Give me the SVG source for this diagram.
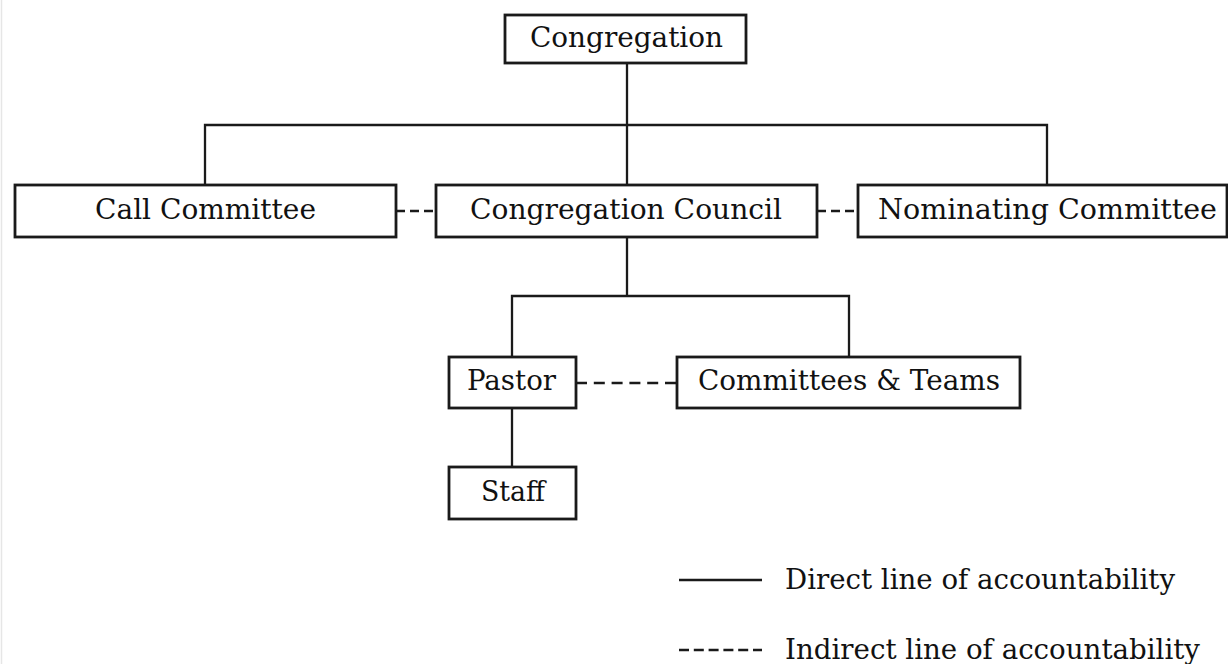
<svg xmlns="http://www.w3.org/2000/svg" width="1228" height="664" viewBox="0 0 1228 664">
<style>
.box{fill:#fff;stroke:#1a1a1a;stroke-width:2.8}
.lbl{font-family:"DejaVu Serif","Liberation Serif",serif;font-size:27.5px;fill:#111;text-anchor:start}
.solid{stroke:#1a1a1a;stroke-width:2.3;fill:none}
.dash{stroke:#1a1a1a;stroke-width:2.5;fill:none;stroke-dasharray:9 5}
.dash2{stroke:#1a1a1a;stroke-width:2.5;fill:none;stroke-dasharray:11 6.8}
.legdash{stroke:#1a1a1a;stroke-width:2.3;fill:none;stroke-dasharray:10 4.8}
</style>
<rect width="1228" height="664" fill="#fff"/>
<line x1="1.5" y1="0" x2="1.5" y2="664" stroke="#e6e6e6" stroke-width="1.5"/>
<g id="connectors">
<path class="solid" d="M627 63V185M205 185V125H1047V185"/>
<path class="solid" d="M627 237V296M512 357V296H849V357"/>
<path class="solid" d="M512 408V467"/>
<path class="dash" d="M396 211H436"/>
<path class="dash" d="M817 211H858"/>
<path class="dash2" d="M576 383H677"/>
</g>
<g id="congregation">
<rect class="box" x="505" y="15" width="241" height="48"/>
<text class="lbl" x="530" y="47" textLength="193" lengthAdjust="spacingAndGlyphs">Congregation</text>
</g>
<g id="call-committee">
<rect class="box" x="15" y="185" width="381" height="52"/>
<text class="lbl" x="95" y="219" textLength="221" lengthAdjust="spacingAndGlyphs">Call Committee</text>
</g>
<g id="congregation-council">
<rect class="box" x="436" y="185" width="381" height="52"/>
<text class="lbl" x="470" y="219" textLength="312" lengthAdjust="spacingAndGlyphs">Congregation Council</text>
</g>
<g id="nominating-committee">
<rect class="box" x="858" y="185" width="369" height="52"/>
<text class="lbl" x="878" y="219" textLength="339" lengthAdjust="spacingAndGlyphs">Nominating Committee</text>
</g>
<g id="pastor">
<rect class="box" x="449" y="357" width="127" height="51"/>
<text class="lbl" x="467" y="390" textLength="89" lengthAdjust="spacingAndGlyphs">Pastor</text>
</g>
<g id="committees-teams">
<rect class="box" x="677" y="357" width="343" height="51"/>
<text class="lbl" x="698" y="390" textLength="302" lengthAdjust="spacingAndGlyphs">Committees &amp; Teams</text>
</g>
<g id="staff">
<rect class="box" x="449" y="467" width="127" height="52"/>
<text class="lbl" x="481" y="501" textLength="64" lengthAdjust="spacingAndGlyphs">Staff</text>
</g>
<g id="legend">
<line class="solid" x1="679" y1="580" x2="762" y2="580"/>
<text class="lbl" x="785" y="589" textLength="390" lengthAdjust="spacingAndGlyphs">Direct line of accountability</text>
<line class="legdash" x1="679" y1="650" x2="762" y2="650"/>
<text class="lbl" x="785" y="659" textLength="415" lengthAdjust="spacingAndGlyphs">Indirect line of accountability</text>
</g>
</svg>
